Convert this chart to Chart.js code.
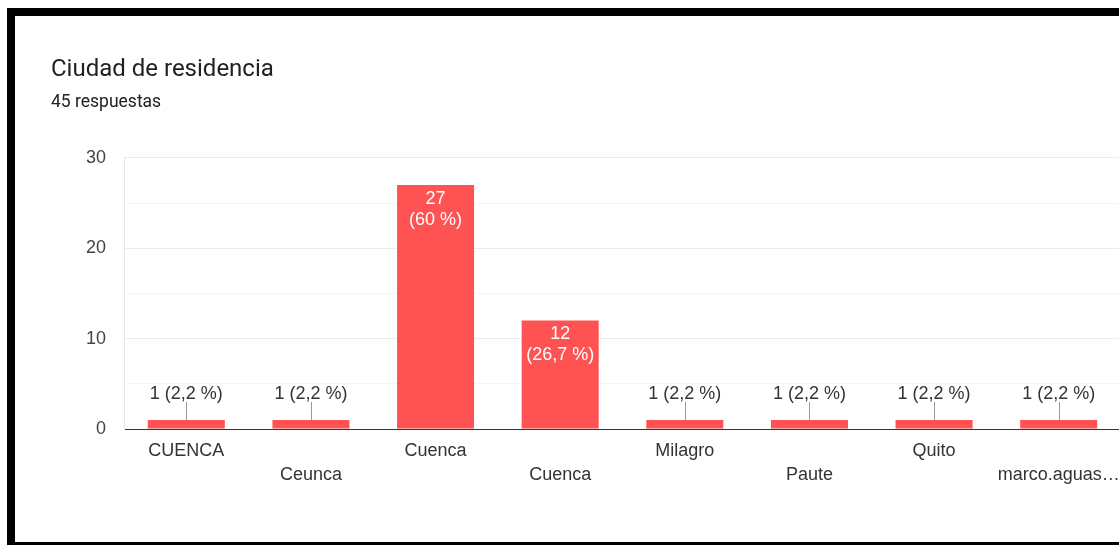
<!DOCTYPE html>
<html>
<head>
<meta charset="utf-8">
<script src="https://cdn.jsdelivr.net/npm/chart.js@4"></script>
<style>
  html, body { margin: 0; padding: 0; background: #fff; overflow: hidden; }
  body { width: 1119px; height: 545px; position: relative; }
  .frame-top { position: absolute; left: 7px; top: 8px; width: 1200px; height: 8px; background: #000; }
  .frame-left { position: absolute; left: 7px; top: 8px; width: 8px; height: 600px; background: #000; }
  .frame-bottom { position: absolute; left: 7px; top: 542px; width: 1200px; height: 10px; background: #000; }
  #wrap { position: absolute; left: 0; top: 0; width: 1121px; height: 545px; }
</style>
</head>
<body>
<div class="frame-top"></div>
<div class="frame-left"></div>
<div class="frame-bottom"></div>
<div id="wrap"><canvas id="chart"></canvas></div>
<script>
// Survey question: city of residence
const title = 'Ciudad de residencia';
const responses = 45;
const categories = ['CUENCA', 'Ceunca', 'Cuenca', 'Cuenca', 'Milagro', 'Paute', 'Quito', 'marco.aguas…'];
const counts = [1, 1, 27, 12, 1, 1, 1, 1];
const yTickLabels = [0, 10, 20, 30];

const BAR_COLOR = '#ff5252';
const HEAD_FONT = 'Roboto, "Noto Sans", sans-serif';
const CHART_FONT = '"Liberation Sans", Arial, sans-serif';

function pct(v) {
  const p = Math.round(v / responses * 1000) / 10;
  return String(p).replace('.', ',') + ' %';
}

// Value labels: inside tall bars (white, two lines), above short bars with a leader line
const valueLabels = {
  id: 'valueLabels',
  afterDatasetsDraw(chart) {
    const ctx = chart.ctx;
    const meta = chart.getDatasetMeta(0);
    ctx.save();
    ctx.font = '18px ' + CHART_FONT;
    ctx.textAlign = 'center';
    ctx.textBaseline = 'middle';
    meta.data.forEach((bar, i) => {
      const v = counts[i];
      const h = bar.base - bar.y;
      if (h > 50) {
        ctx.fillStyle = '#ffffff';
        ctx.fillText(String(v), bar.x, bar.y + 14);
        ctx.fillText('(' + pct(v) + ')', bar.x, bar.y + 35);
      } else {
        ctx.strokeStyle = '#999999';
        ctx.lineWidth = 1;
        ctx.beginPath();
        ctx.moveTo(Math.round(bar.x) + 0.5, bar.y);
        ctx.lineTo(Math.round(bar.x) + 0.5, bar.y - 18);
        ctx.stroke();
        ctx.fillStyle = '#333333';
        ctx.fillText(v + ' (' + pct(v) + ')', bar.x, bar.y - 26);
      }
    });
    ctx.restore();
  }
};

new Chart(document.getElementById('chart'), {
  type: 'bar',
  data: {
    labels: categories,
    datasets: [{
      data: counts,
      backgroundColor: BAR_COLOR,
      borderWidth: 0,
      categoryPercentage: 1,
      barPercentage: 0.618
    }]
  },
  options: {
    responsive: true,
    maintainAspectRatio: false,
    animation: false,
    layout: { padding: { left: 51, right: 0, top: 0, bottom: 0 } },
    plugins: {
      legend: { display: false },
      tooltip: { enabled: false },
      title: {
        display: true,
        text: title,
        align: 'start',
        color: '#202124',
        font: { family: HEAD_FONT, size: 24, weight: 'normal' },
        padding: { top: 56, bottom: 7 }
      },
      subtitle: {
        display: true,
        text: responses + ' respuestas',
        align: 'start',
        color: '#202124',
        font: { family: HEAD_FONT, size: 17.5, weight: 'normal' },
        padding: { top: 0, bottom: 45 }
      }
    },
    scales: {
      x: {
        grid: { display: false, drawTicks: false },
        border: { display: true, color: '#333333', width: 1 },
        ticks: {
          autoSkip: false,
          maxRotation: 0,
          minRotation: 0,
          padding: 10,
          color: '#333333',
          font: { family: CHART_FONT, size: 18, lineHeight: 1.333 },
          callback(value, index) {
            const name = categories[index];
            return index % 2 === 1 ? ['', name] : name;
          }
        },
        afterFit(scale) {
          scale.height = 116;
          // let the last label run to the edge instead of shrinking the plot
          scale.paddingLeft = 0;
          scale.paddingRight = 0;
        }
      },
      y: {
        min: 0,
        max: 30,
        grid: {
          drawTicks: false,
          color(c) {
            const v = c.tick.value;
            if (v === 0) return '#333333';
            return yTickLabels.includes(v) ? '#ebebeb' : '#f5f5f5';
          }
        },
        border: { display: true, color: '#e6e6e6' },
        ticks: {
          stepSize: 5,
          padding: 18,
          color: '#444444',
          font: { family: CHART_FONT, size: 18 },
          callback(value) { return yTickLabels.includes(value) ? value : ''; }
        },
        afterFit(scale) { scale.width = 73; }
      }
    }
  },
  plugins: [valueLabels]
});
</script>
</body>
</html>
